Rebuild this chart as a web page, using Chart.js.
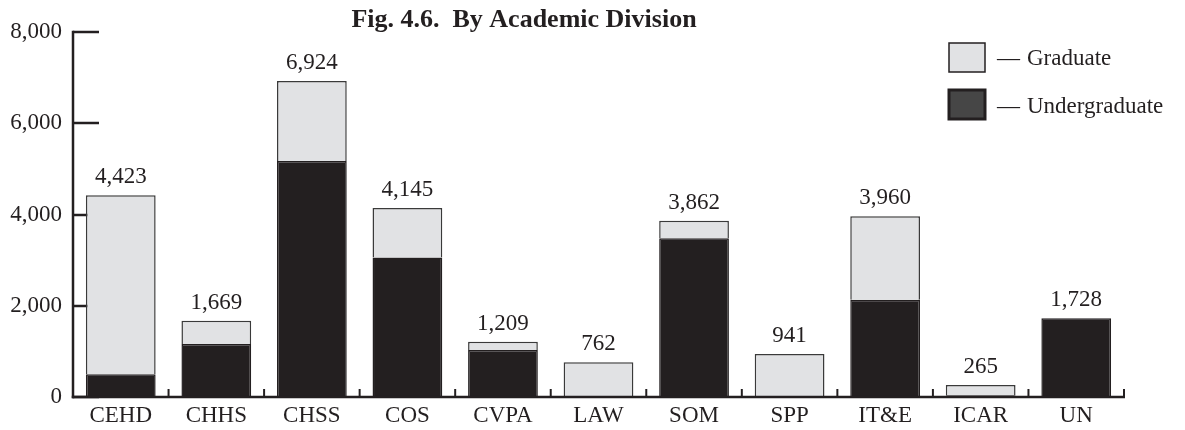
<!DOCTYPE html>
<html><head><meta charset="utf-8">
<script src="https://cdn.jsdelivr.net/npm/chart.js"></script>
<style>html,body{margin:0;padding:0;background:#fff}#wrap{width:1185px;height:430px}</style>
</head><body><div id="wrap"><canvas id="c" width="1185" height="430"></canvas></div>
<script>
const chartTitle = 'Fig. 4.6.  By Academic Division';
const categories = ['CEHD','CHHS','CHSS','COS','CVPA','LAW','SOM','SPP','IT&E','ICAR','UN'];
const totals = [4423,1669,6924,4145,1209,762,3862,941,3960,265,1728];
const undergraduate = [500,1160,5170,3060,1030,0,3480,0,2130,40,1728];
const graduate = [3923,509,1754,1085,179,762,382,941,1830,225,0];
const yTicks = [0,2000,4000,6000,8000];

const INK = '#231f20';
const LIGHT = '#e1e2e4';
const FONT = 'Liberation Serif';

const axesPlugin = {
  id: 'axesPlugin',
  beforeDatasetsDraw(chart) {
    const {ctx, chartArea: ca, scales: {y}} = chart;
    ctx.save();
    ctx.strokeStyle = INK;
    ctx.lineWidth = 2.5;
    yTicks.forEach(v => {
      const py = Math.round(y.getPixelForValue(v));
      ctx.beginPath(); ctx.moveTo(ca.left, py); ctx.lineTo(ca.left + 26, py); ctx.stroke();
    });
    ctx.restore();
  },
  afterDatasetsDraw(chart) {
    const {ctx, chartArea: ca, scales: {x, y}} = chart;
    ctx.save();
    ctx.strokeStyle = INK;
    ctx.lineWidth = 2.5;
    const top = Math.round(y.getPixelForValue(yTicks[yTicks.length-1])) - 1.25;
    ctx.beginPath(); ctx.moveTo(ca.left, top); ctx.lineTo(ca.left, ca.bottom + 1.25); ctx.stroke();
    ctx.beginPath(); ctx.moveTo(ca.left - 1.25, ca.bottom); ctx.lineTo(ca.right + 1, ca.bottom); ctx.stroke();
    const half = (x.getPixelForValue(1) - x.getPixelForValue(0)) / 2;
    ctx.lineWidth = 2;
    categories.forEach((c, i) => {
      const bx = x.getPixelForValue(i) + half;
      ctx.beginPath(); ctx.moveTo(bx, ca.bottom); ctx.lineTo(bx, ca.bottom - 8); ctx.stroke();
    });
    // totals above bars
    const meta = chart.getDatasetMeta(1);
    ctx.fillStyle = INK;
    ctx.font = '23px "' + FONT + '"';
    ctx.textAlign = 'center';
    ctx.textBaseline = 'alphabetic';
    meta.data.forEach((bar, i) => {
      ctx.fillText(totals[i].toLocaleString('en-US'), bar.x, y.getPixelForValue(totals[i]) - 12);
    });
    // title
    ctx.font = 'bold 26px "' + FONT + '"';
    ctx.fillText(chartTitle, 524, 27);
    // legend
    const items = [
      {ds: chart.data.datasets[1], y: 43, lw: 1.5, fill: LIGHT, base: 65},
      {ds: chart.data.datasets[0], y: 90, lw: 3, fill: '#464646', base: 113}
    ];
    items.forEach(it => {
      ctx.fillStyle = it.fill;
      ctx.fillRect(949, it.y, 36, 29);
      ctx.strokeStyle = INK;
      ctx.lineWidth = it.lw;
      ctx.strokeRect(949, it.y, 36, 29);
      ctx.fillStyle = INK;
      ctx.font = '23px "' + FONT + '"';
      ctx.textAlign = 'left';
      ctx.fillText('\u2014', 997, it.base);
      ctx.fillText(it.ds.label, 1027, it.base);
    });
    ctx.restore();
  }
};

new Chart(document.getElementById('c'), {
  type: 'bar',
  data: {
    labels: categories,
    datasets: [
      {label: 'Undergraduate', data: undergraduate, backgroundColor: INK, borderColor: INK, borderWidth: 1.5,
       barPercentage: 0.73, categoryPercentage: 1},
      {label: 'Graduate', data: graduate, backgroundColor: LIGHT, borderColor: '#3a3a3a', borderWidth: 1.5,
       barPercentage: 0.73, categoryPercentage: 1}
    ]
  },
  options: {
    responsive: false,
    animation: false,
    devicePixelRatio: 1,
    layout: {padding: {top: 32, right: 61, left: 0, bottom: 0}},
    plugins: {legend: {display: false}, title: {display: false}, tooltip: {enabled: false}},
    scales: {
      x: {
        stacked: true,
        grid: {display: false, drawTicks: false},
        border: {display: false},
        ticks: {font: {family: FONT, size: 23}, color: INK, padding: 5, maxRotation: 0, autoSkip: false},
        afterFit: s => { s.height = 33; }
      },
      y: {
        stacked: true,
        min: 0, max: 8000,
        grid: {display: false, drawTicks: false},
        border: {display: false},
        afterBuildTicks: s => { s.ticks = yTicks.map(v => ({value: v})); },
        ticks: {font: {family: FONT, size: 23}, color: INK, padding: 11,
                callback: v => v.toLocaleString('en-US')},
        afterFit: s => { s.width = 73; }
      }
    }
  },
  plugins: [axesPlugin]
});
</script>
</body></html>
